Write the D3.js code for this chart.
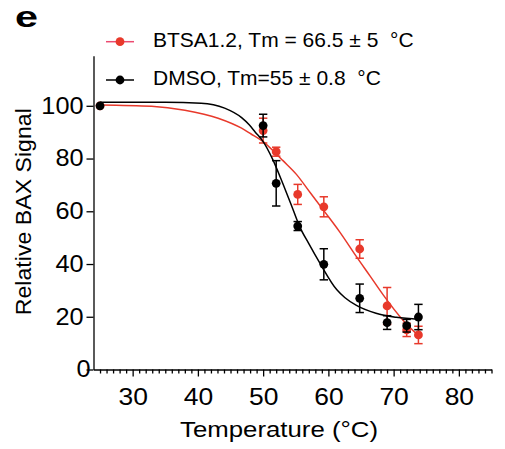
<!DOCTYPE html>
<html>
<head>
<meta charset="utf-8">
<script src="https://cdn.jsdelivr.net/npm/d3@7"></script>
<style>
  body { margin: 0; background: #fff; }
  text { font-family: "Liberation Sans", Arial, sans-serif; fill: #000; }
</style>
</head>
<body>
<svg id="chart" width="505" height="449"></svg>
<script>
// measured points (temperature in °C, relative signal)
var temps = [25, 50, 52, 55.3, 59.3, 64.8, 69, 72, 73.8];
var dmsoMean = [100, 92.5, 70.6, 54.4, 39.9, 27.0, 17.8, 16.6, 19.9];
var dmsoErr = [0, 4.3, 8.6, 1.7, 5.9, 5.4, 2.6, 2.4, 4.8];
var btsaMean = [100, 90.6, 82.6, 66.4, 61.7, 45.7, 24.1, 15.0, 13.1];
var btsaErr = [0, 4.7, 1.7, 3.8, 3.8, 3.5, 7.0, 2.5, 3.3];

// fitted curves
var dmsoFitT = [25, 35, 40.5, 44.1, 46.7, 47.9, 48.8, 49.9, 51.5, 53, 54.3, 55.6, 57, 58.7, 61.3, 62.5, 64.3, 67.3, 70.4, 74];
var dmsoFitV = [101.3, 101.3, 101.0, 99.1, 95.5, 92.7, 90.0, 86.8, 79.5, 70.6, 62.5, 54.2, 47.7, 40.3, 30.2, 27.3, 24.3, 21.3, 19.8, 19.0];
var btsaFitT = [25, 32.9, 38, 43.1, 46.7, 48.1, 49.9, 52, 53, 55.1, 57.2, 59.5, 61.7, 64.3, 66.4, 68.4, 71.4, 74];
var btsaFitV = [100.3, 99.8, 98.3, 95.3, 91.5, 89.4, 86.6, 81.8, 79.3, 74.0, 67.1, 59.6, 52.3, 42.8, 35.4, 28.3, 18.8, 12.4];

var xTicks = [30, 40, 50, 60, 70, 80];
var yTicks = [0, 20, 40, 60, 80, 100];
var legendLabels = ["BTSA1.2, Tm = 66.5 \u00b1 5  \u00b0C", "DMSO, Tm=55 \u00b1 0.8  \u00b0C"];

var red = "#e8392b";
var svg = d3.select("#chart");

var x = d3.scaleLinear().domain([24, 85]).range([93.5, 491.5]);
var y = d3.scaleLinear().domain([0, 119]).range([369.5, 55.7]);

// panel letter
svg.append("text")
  .attr("x", 15).attr("y", 27)
  .attr("font-size", 30).attr("font-weight", "bold")
  .attr("textLength", 23).attr("lengthAdjust", "spacingAndGlyphs")
  .text("e");

// axes
var xAxis = svg.append("g")
  .attr("transform", "translate(0," + y(0) + ")")
  .call(d3.axisBottom(x).tickValues(xTicks).tickSize(7).tickSizeOuter(0).tickPadding(12.5));
xAxis.selectAll("text").attr("font-size", 23).attr("transform", "scale(1.15,1)");

var minor = d3.range(25, 86).filter(function(d){ return d % 10 !== 0; });
svg.append("g")
  .attr("transform", "translate(0," + y(0) + ")")
  .call(d3.axisBottom(x).tickValues(minor).tickSize(4).tickFormat(""))
  .select(".domain").remove();

var yAxis = svg.append("g")
  .attr("transform", "translate(" + x(24) + ",0)")
  .call(d3.axisLeft(y).tickValues(yTicks).tickSize(7).tickSizeOuter(0).tickPadding(3));
yAxis.selectAll("text").attr("font-size", 23)
  .attr("x", function(d){ return (d === 0 ? -3 : -10) / 1.1; })
  .attr("transform", "scale(1.1,1)");

svg.selectAll(".domain, .tick line").attr("stroke", "#000").attr("stroke-width", 1.3);

// axis titles
svg.append("text")
  .attr("x", 279).attr("y", 437)
  .attr("text-anchor", "middle").attr("font-size", 22.5)
  .attr("textLength", 198).attr("lengthAdjust", "spacingAndGlyphs")
  .text("Temperature (\u00b0C)");

svg.append("text")
  .attr("transform", "translate(31,211.7) rotate(-90)")
  .attr("text-anchor", "middle").attr("font-size", 22.5)
  .attr("textLength", 207).attr("lengthAdjust", "spacingAndGlyphs")
  .text("Relative BAX Signal");

// fit curves
var line = d3.line()
  .x(function(d){ return x(d[0]); })
  .y(function(d){ return y(d[1]); })
  .curve(d3.curveMonotoneX);

function drawSeries(fitT, fitV, means, errs, color) {
  svg.append("path")
    .datum(d3.zip(fitT, fitV))
    .attr("d", line)
    .attr("fill", "none").attr("stroke", color).attr("stroke-width", 1.5);

  var pts = d3.zip(temps, means, errs);
  var g = svg.append("g");
  pts.forEach(function(p){
    if (p[2] > 0) {
      var cx = x(p[0]);
      g.append("line")
        .attr("x1", cx).attr("x2", cx)
        .attr("y1", y(p[1] - p[2])).attr("y2", y(p[1] + p[2]))
        .attr("stroke", color).attr("stroke-width", 1.5);
      [p[1] - p[2], p[1] + p[2]].forEach(function(v){
        g.append("line")
          .attr("x1", cx - 4.2).attr("x2", cx + 4.2)
          .attr("y1", y(v)).attr("y2", y(v))
          .attr("stroke", color).attr("stroke-width", 1.5);
      });
    }
  });
  g.selectAll("circle")
    .data(pts)
    .enter().append("circle")
    .attr("cx", function(d){ return x(d[0]); })
    .attr("cy", function(d){ return y(d[1]); })
    .attr("r", 4.4)
    .attr("fill", color);
}

drawSeries(btsaFitT, btsaFitV, btsaMean, btsaErr, red);
drawSeries(dmsoFitT, dmsoFitV, dmsoMean, dmsoErr, "#000");

// legend
var legend = [
  {label: legendLabels[0], line: "#ec4a70", dot: red, y: 41.7},
  {label: legendLabels[1], line: "#000", dot: "#000", y: 80}
];
legend.forEach(function(l){
  svg.append("line")
    .attr("x1", 106).attr("x2", 134)
    .attr("y1", l.y).attr("y2", l.y)
    .attr("stroke", l.line).attr("stroke-width", 1.5);
  svg.append("circle")
    .attr("cx", 120).attr("cy", l.y).attr("r", 4.4).attr("fill", l.dot);
  svg.append("text")
    .attr("x", 153).attr("y", l.y + 5)
    .attr("font-size", 21)
    .style("white-space", "pre")
    .text(l.label);
});
</script>
</body>
</html>
